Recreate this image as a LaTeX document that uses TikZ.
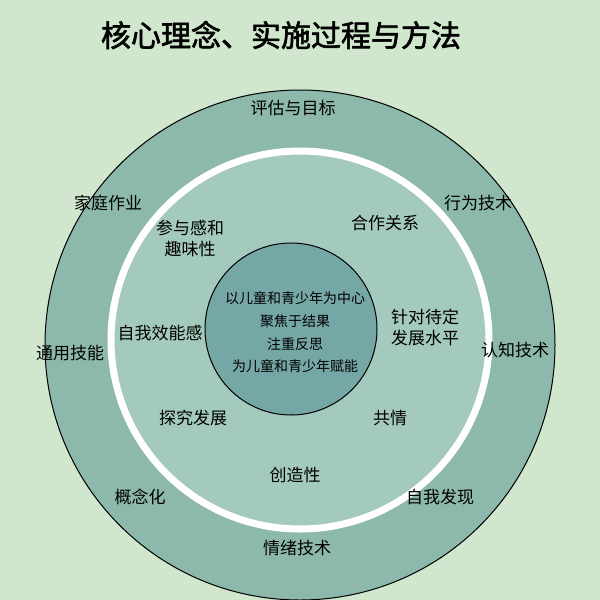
\documentclass[tikz,border=0pt]{standalone}
\usepackage{fontspec}
\setmainfont{Noto Sans CJK SC}
\newfontfamily\titlefont[FakeBold=2]{Noto Sans CJK SC}
\definecolor{bggreen}{HTML}{D0E7CD}
\definecolor{outerring}{HTML}{8DB8AC}
\definecolor{midring}{HTML}{A4C9BD}
\definecolor{core}{HTML}{76A7A7}
\tikzset{
  ringtext/.style={font=\fontsize{17}{21}\selectfont, align=center},
  coretext/.style={font=\fontsize{14}{16}\selectfont, align=center}
}
\begin{document}
\begin{tikzpicture}[x=1pt,y=-1pt]
  \fill[bggreen] (0,0) rectangle (600,600);
  \useasboundingbox (0,0) rectangle (600,600);

  % rings
  \draw[black, line width=1pt, fill=outerring] (300,345) circle (255);
  \draw[white, line width=7pt, fill=midring] (300,340) circle (189);
  \draw[black, line width=1pt, fill=core] (291,329) circle (86);

  \node[font=\titlefont\fontsize{30}{34}\selectfont] (title) at (281,35) {核心理念、实施过程与方法};

  % outer ring labels
  \node[ringtext] (eval) at (293,108) {评估与目标};
  \node[ringtext] (behav) at (478,203) {行为技术};
  \node[ringtext] (cogn) at (515,350) {认知技术};
  \node[ringtext] (selfd) at (440,497) {自我发现};
  \node[ringtext] (emot) at (297,548) {情绪技术};
  \node[ringtext] (concept) at (140,497) {概念化};
  \node[ringtext] (general) at (70,353) {通用技能};
  \node[ringtext] (home) at (108,203) {家庭作业};

  % middle ring labels
  \node[ringtext] (fun) at (190,238) {参与感和\\趣味性};
  \node[ringtext] (partner) at (385,223) {合作关系};
  \node[ringtext] (level) at (425,328) {针对待定\\发展水平};
  \node[ringtext] (empathy) at (390,418) {共情};
  \node[ringtext] (creative) at (295,475) {创造性};
  \node[ringtext] (explore) at (193,418) {探究发展};
  \node[ringtext] (efficacy) at (160,333) {自我效能感};

  % core labels
  \node[coretext] (c1) at (295,298) {以儿童和青少年为中心};
  \node[coretext] (c2) at (295,321) {聚焦于结果};
  \node[coretext] (c3) at (295,344) {注重反思};
  \node[coretext] (c4) at (295,366) {为儿童和青少年赋能};
\end{tikzpicture}
\end{document}
